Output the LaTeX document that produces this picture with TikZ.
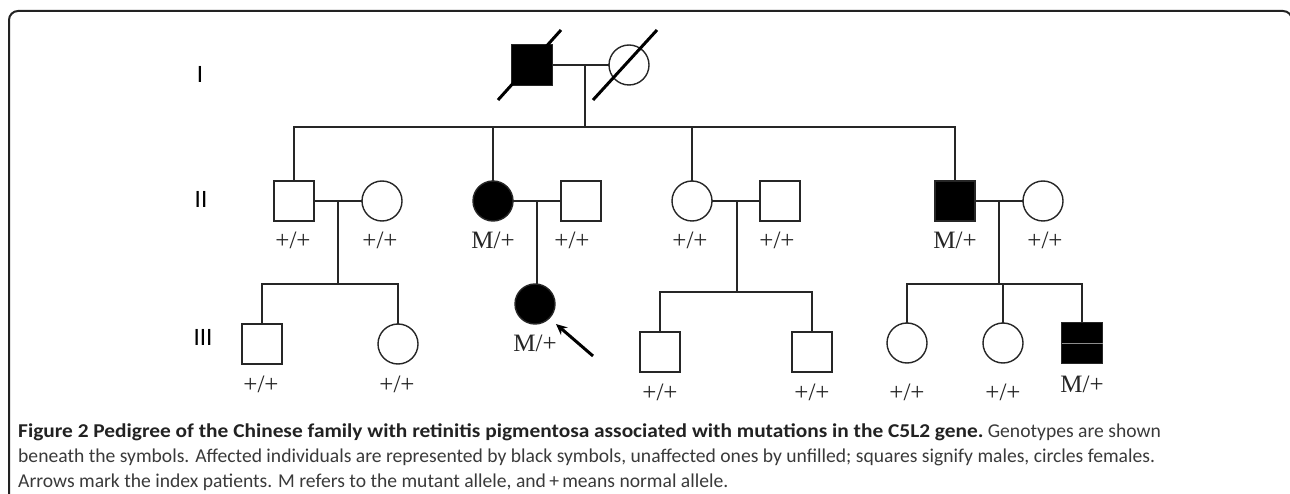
\documentclass[tikz,border=0pt]{standalone}
\usepackage{fontspec}
\setmainfont{Liberation Serif}
\newfontfamily\capfont{Carlito}
\usetikzlibrary{arrows.meta,calc}

\definecolor{ink}{HTML}{222222}
\definecolor{captext}{HTML}{3A3A3A}

\begin{document}
\begin{tikzpicture}[x=1pt,y=-1pt,
  link/.style={line width=1.4pt, draw=black!85},
  person/.style={draw=black!85, line width=1.4pt, minimum size=40pt, inner sep=0pt, outer sep=0pt},
  male/.style={person, rectangle},
  female/.style={person, circle},
  aff/.style={fill=black},
  geno/.style={font=\fontsize{25}{25}\selectfont, inner sep=0pt, text=black!85},
  genlabel/.style={font=\capfont\fontsize{25}{25}\selectfont, inner sep=0pt},
  deceased/.style={line width=3pt, draw=black},
  pointer/.style={line width=3pt, draw=black, -{Stealth[length=11pt,width=10pt]}},
  capline/.style={anchor=base west, inner sep=0pt, font=\capfont\fontsize{19.6}{25}\selectfont, text=captext}
]
\useasboundingbox (0,0) rectangle (1290,494);
\fill[white] (0,0) rectangle (1290,494);

% panel frame with rounded upper corners
\begin{scope}
  \clip (0,0) rectangle (1290,494);
  \draw[ink, line width=2pt, rounded corners=9pt] (9,520) -- (9,11) -- (1292,11) -- (1292,520);
\end{scope}

% generation labels
\node[genlabel] (gI)   at (200,74)  {I};
\node[genlabel] (gII)  at (201,199) {II};
\node[genlabel] (gIII) at (203,337) {III};

% ---------- generation I ----------
\node[male, aff, minimum size=41pt] (m1) at (532,65) {};
\node[female] (f1) at (629,65) {};
\coordinate (c1) at (585,65);
\draw[link] (m1.east) -- (f1.west);
\draw[deceased] (m1) ++(-34,35) -- ++(63,-70);
\draw[deceased] (f1) ++(-36,35) -- ++(64,-70);

% ---------- generation II ----------
\node[male]   (a1) at (294,201) {};
\node[female] (a2) at (382,201) {};
\node[female, aff] (b1) at (493,201) {};
\node[male]   (b2) at (581,201) {};
\node[female] (d1) at (692,201) {};
\node[male]   (d2) at (780,201) {};
\node[male, aff] (e1) at (955,201) {};
\node[female] (e2) at (1043,201) {};

\coordinate (s1) at (585,127);
\draw[link] (c1) -- (s1);
\draw[link] (a1.north) |- (s1) -| (e1.north);
\draw[link] (b1.north) -- (b1.north |- s1);
\draw[link] (d1.north) -- (d1.north |- s1);

\draw[link] (a1.east) -- (a2.west);
\draw[link] (b1.east) -- (b2.west);
\draw[link] (d1.east) -- (d2.west);
\draw[link] (e1.east) -- (e2.west);
\coordinate (c2) at (338,201);
\coordinate (c3) at (537,201);
\coordinate (c4) at (737,201);
\coordinate (c5) at (999,201);

\node[geno] (la1) at (293,240) {+/+};
\node[geno] (la2) at (380,240) {+/+};
\node[geno] (lb1) at (493,240) {M/+};
\node[geno] (lb2) at (572,240) {+/+};
\node[geno] (ld1) at (690,240) {+/+};
\node[geno] (ld2) at (777,240) {+/+};
\node[geno] (le1) at (955,240) {M/+};
\node[geno] (le2) at (1045,240) {+/+};

% ---------- generation III ----------
\node[male]   (g1) at (262,344) {};
\node[female] (g2) at (398,344) {};
\coordinate (s2) at (338,284);
\draw[link] (c2) -- (s2);
\draw[link] (g1.north) |- (s2) -| (g2.north);

\node[female, aff] (b3) at (535,304) {};
\draw[link] (c3) -- (c3 |- b3.north);
\coordinate (pr) at (593,356);
\draw[pointer, shorten >=9pt] (pr) -- (b3.south east);

\node[male] (h1) at (660,352) {};
\node[male] (h2) at (812,352) {};
\coordinate (s3) at (737,292);
\draw[link] (c4) -- (s3);
\draw[link] (h1.north) |- (s3) -| (h2.north);

\node[female] (k1) at (907,343) {};
\node[female] (k2) at (1003,343) {};
\node[male, aff, minimum size=41pt] (k3) at (1082,343) {};
\draw[black!45, line width=1pt] (k3.west) -- (k3.east);
\coordinate (s4) at (999,284);
\draw[link] (c5) -- (s4);
\draw[link] (k1.north) |- (s4) -| (k3.north);
\draw[link] (k2.north) -- (k2.north |- s4);

\node[geno] (lg1) at (261,384) {+/+};
\node[geno] (lg2) at (397,384) {+/+};
\node[geno] (lb3) at (535,343) {M/+};
\node[geno] (lh1) at (660,392) {+/+};
\node[geno] (lh2) at (812,392) {+/+};
\node[geno] (lk1) at (907,392) {+/+};
\node[geno] (lk2) at (1003,392) {+/+};
\node[geno] (lk3) at (1082,384) {M/+};

% ---------- caption ----------
\node[capline] (cap1) at (18,437) {\textcolor{ink}{\scalebox{1.09}[1]{\textbf{Figure 2 Pedigree of the Chinese family with retinitis pigmentosa associated with mutations in the C5L2 gene.}}} Genotypes are shown};
\node[capline] (cap2) at (18,462) {beneath the symbols. Affected individuals are represented by black symbols, unaffected ones by unfilled; squares signify males, circles females.};
\node[capline] (cap3) at (18,487) {Arrows mark the index patients. M refers to the mutant allele, and\,+\,means normal allele.};
\end{tikzpicture}
\end{document}
